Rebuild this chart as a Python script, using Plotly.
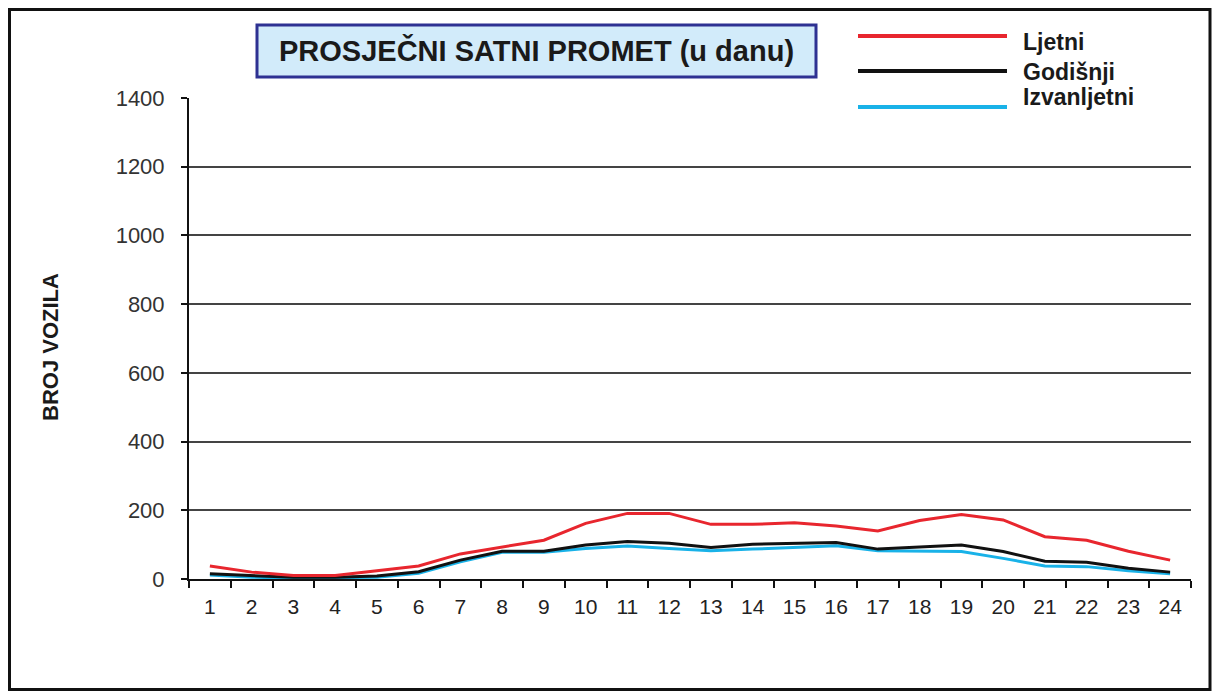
import plotly.graph_objects as go

hours = [str(h) for h in range(1, 25)]
ljetni = [38, 20, 10, 10, 24, 38, 73, 94, 113, 162, 191, 191, 159, 159, 164, 154, 140, 170, 188, 172, 123, 113, 81, 55]
godisnji = [15, 9, 5, 5, 9, 21, 55, 81, 81, 99, 109, 104, 92, 101, 104, 106, 87, 94, 99, 80, 52, 49, 31, 20]
izvanljetni = [12, 5, 3, 3, 5, 17, 50, 78, 78, 89, 96, 89, 82, 87, 92, 97, 82, 82, 80, 60, 38, 36, 24, 15]
y_ticks = [0, 200, 400, 600, 800, 1000, 1200, 1400]

series_names = ["Ljetni", "Godišnji", "Izvanljetni"]
series_colors = ["#e8262e", "#111111", "#19b2e8"]

W, H = 1213, 691
L, R, T, B = 189, 22, 98, 112
PW, PH = W - L - R, H - T - B


def px(x):
    return (x - L) / PW


def py(y):
    return (H - B - y) / PH


fig = go.Figure()
for name, vals, col in [("Izvanljetni", izvanljetni, series_colors[2]),
                        ("Godišnji", godisnji, series_colors[1]),
                        ("Ljetni", ljetni, series_colors[0])]:
    fig.add_trace(go.Scatter(x=hours, y=vals, mode="lines", name=name,
                             line=dict(color=col, width=3), showlegend=False))

shapes = []
annotations = []
# outer frame
shapes.append(dict(type="rect", xref="paper", yref="paper",
                   x0=px(9.5), x1=px(1210), y0=py(689.5), y1=py(9.5),
                   line=dict(color="#111111", width=3), layer="below"))
# title box
shapes.append(dict(type="rect", xref="paper", yref="paper",
                   x0=px(257), x1=px(816), y0=py(77), y1=py(25),
                   line=dict(color="#2e3192", width=3), fillcolor="#d2ebfa"))
annotations.append(dict(text="<b>PROSJEČNI SATNI PROMET (u danu)</b>", xref="paper", yref="paper",
                        x=px(536), y=py(51), xanchor="center", yanchor="middle", showarrow=False,
                        font=dict(family="Liberation Sans, Arial", size=29, color="#1a1a1a")))
# legend
leg_y_lines = [36, 71, 107]
leg_y_text = [42, 72, 97]
for name, col, yl, yt in zip(series_names, series_colors, leg_y_lines, leg_y_text):
    shapes.append(dict(type="line", xref="paper", yref="paper",
                       x0=px(858), x1=px(1007), y0=py(yl), y1=py(yl),
                       line=dict(color=col, width=4)))
    annotations.append(dict(text="<b>%s</b>" % name, xref="paper", yref="paper",
                            x=px(1021), y=py(yt), xanchor="left", yanchor="middle", showarrow=False,
                            font=dict(family="Liberation Sans, Arial", size=23, color="#1a1a1a")))
# y-axis title
annotations.append(dict(text="<b>BROJ VOZILA</b>", xref="paper", yref="paper",
                        x=px(50), y=py(347), xanchor="center", yanchor="middle", showarrow=False,
                        textangle=-90,
                        font=dict(family="Liberation Sans, Arial", size=22, color="#1a1a1a")))

fig.update_layout(
    width=W, height=H,
    margin=dict(l=L, r=R, t=T, b=B, pad=0),
    paper_bgcolor="white", plot_bgcolor="white",
    shapes=shapes, annotations=annotations,
    showlegend=False,
    xaxis=dict(type="category", tickson="boundaries", ticks="outside", ticklen=7,
               tickwidth=2, tickcolor="#111", showline=True, linecolor="#111", linewidth=2,
               showgrid=False, range=[-0.5, 23.5],
               tickfont=dict(family="Liberation Sans, Arial", size=21, color="#222"),
               ticklabelstandoff=8),
    yaxis=dict(range=[0, 1400], tickvals=y_ticks, ticks="outside", ticklen=6, tickwidth=2,
               tickcolor="#111", showline=True, linecolor="#111", linewidth=2,
               showgrid=True, gridcolor="#444", gridwidth=1.5, zeroline=False,
               tickfont=dict(family="Liberation Sans, Arial", size=22, color="#333"),
               ticklabelstandoff=12),
)

fig.write_html("out.html", config={"displayModeBar": False},
               post_script="document.body.style.margin='0';document.body.style.overflow='hidden';")
